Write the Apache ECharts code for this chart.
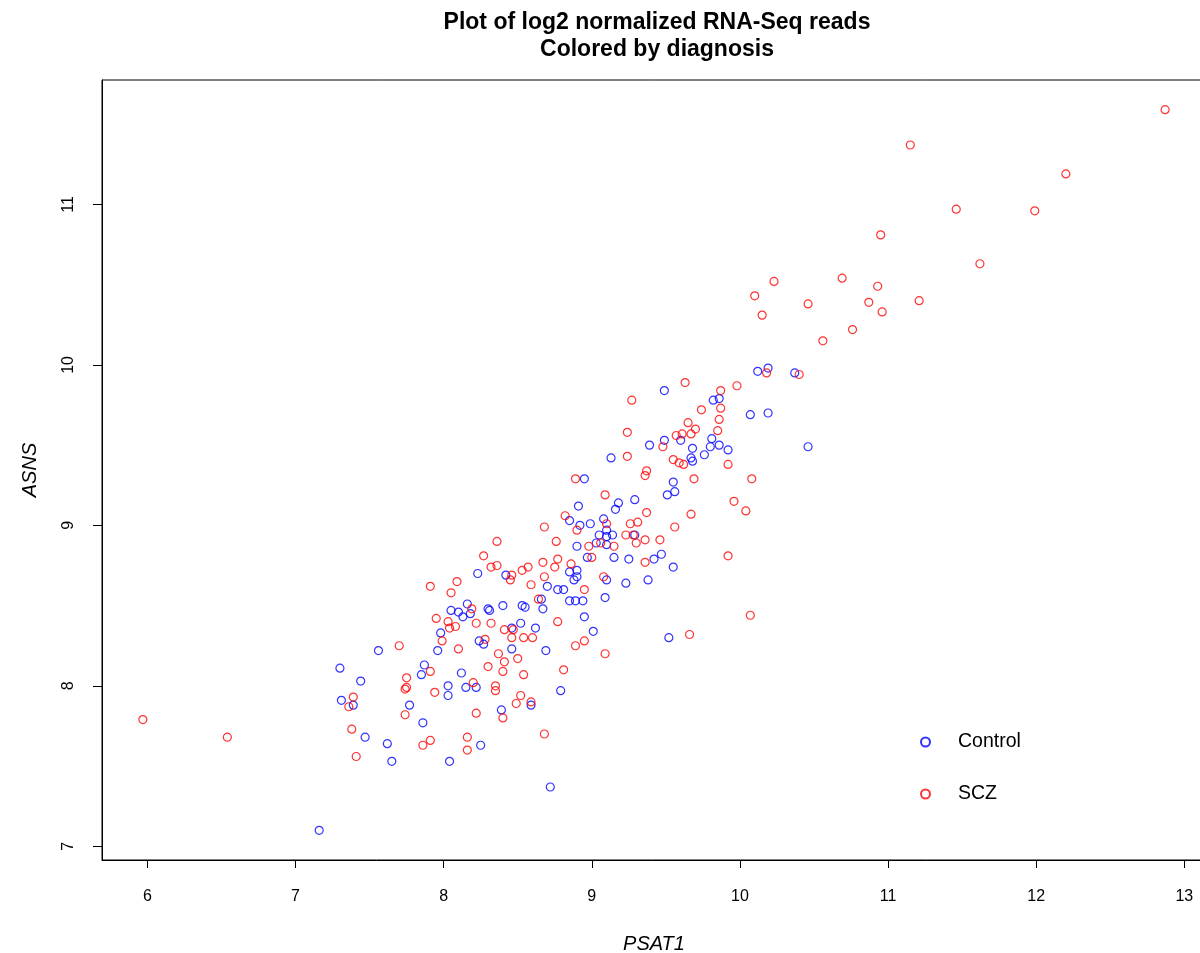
<!DOCTYPE html>
<html>
<head>
<meta charset="utf-8">
<script src="https://cdn.jsdelivr.net/npm/echarts@6/dist/echarts.min.js"></script>
<style>
html,body{margin:0;padding:0;background:#ffffff;}
#chart{width:1200px;height:953px;}
</style>
</head>
<body>
<div id="chart"></div>
<script>
// ---- Data (log2 normalized reads) ----
const controlPSAT1 = [7.98,7.96,7.56,7.30,7.44,7.87,7.85,8.12,8.03,8.15,8.03,7.31,7.39,7.77,7.86,7.47,7.62,7.65,8.04,7.16,
  8.52,8.46,8.62,9.01,8.24,8.27,8.46,8.69,8.22,8.79,8.59,8.39,8.25,8.72,9.52,8.16,8.05,8.10,8.13,9.29,
  9.18,9.16,8.91,8.85,8.92,8.99,9.08,9.10,9.14,9.05,9.10,9.29,9.03,9.10,8.90,8.97,9.15,9.25,8.85,8.90,
  8.90,8.88,9.10,9.23,8.23,8.42,8.70,8.77,8.81,9.09,8.66,8.67,8.85,8.89,8.94,8.40,8.53,8.55,8.18,8.30,
  8.31,8.95,8.95,9.55,9.56,9.51,9.47,9.42,9.55,9.38,10.12,10.19,10.37,9.49,9.82,9.86,10.07,10.19,9.60,9.81,
  9.86,9.80,9.92,9.49,9.39,9.68,9.76,9.67,9.68,9.13,10.46];
const controlASNS = [8.33,8.22,8.22,8.11,8.03,8.13,8.07,8.08,8.00,7.99,7.94,7.91,7.88,7.88,7.77,7.68,7.64,7.53,7.53,7.10,
  8.39,8.36,8.36,8.34,8.28,8.26,8.23,8.22,7.99,7.97,7.88,7.85,7.63,7.37,8.30,8.51,8.47,8.46,8.43,9.16,
  9.14,9.10,9.12,9.03,9.00,9.01,9.04,8.97,8.94,8.94,8.93,8.94,8.89,8.88,8.87,8.80,8.80,8.79,8.71,8.72,
  8.68,8.66,8.66,8.64,8.70,8.69,8.62,8.60,8.60,8.55,8.54,8.48,8.53,8.53,8.53,8.50,8.50,8.49,8.45,8.48,
  8.47,8.43,9.29,9.27,9.21,9.19,8.82,8.79,8.74,8.66,9.96,9.98,9.95,9.84,9.78,9.79,9.69,9.70,9.53,9.54,
  9.50,9.49,9.47,9.53,9.50,9.48,9.44,9.42,9.40,9.42,9.49];

const sczPSAT1 = [7.95,8.03,8.04,8.08,7.99,8.10,7.70,7.91,7.75,7.74,7.75,7.94,7.39,7.36,7.74,7.38,7.91,7.86,8.16,8.16,
  7.41,8.22,8.32,8.41,8.47,8.77,8.28,8.46,8.54,8.60,8.89,8.95,9.09,8.37,8.41,8.50,8.30,8.40,8.54,8.81,
  8.20,8.35,8.35,8.52,8.49,8.59,8.22,8.40,8.68,10.07,9.66,7.91,8.09,8.05,8.89,9.09,8.82,8.90,9.10,9.26,
  9.31,9.23,9.28,9.30,9.06,9.15,8.98,8.68,8.36,8.76,9.00,8.27,8.32,8.36,8.67,8.77,8.75,8.86,9.08,8.46,
  8.45,8.53,8.57,8.68,8.59,8.95,8.64,8.19,9.37,9.36,9.69,10.08,9.96,10.04,9.37,9.67,9.56,9.36,9.46,9.92,
  9.36,10.18,10.40,9.63,9.98,9.27,9.87,9.87,9.74,9.65,9.86,9.24,9.70,9.67,9.61,9.57,9.85,9.48,9.55,9.59,
  9.62,9.24,9.92,12.87,11.15,12.20,11.46,11.99,10.95,11.62,10.23,10.69,10.93,10.10,10.46,10.87,10.96,11.21,10.15,10.76,
  10.56,5.97,6.54];
const sczASNS = [8.42,8.40,8.36,8.37,8.28,8.23,8.25,8.09,8.05,7.98,7.99,7.96,7.93,7.87,7.82,7.73,7.66,7.63,7.68,7.60,
  7.56,8.39,8.39,8.35,8.35,8.40,8.29,8.30,8.30,8.30,8.25,8.28,8.20,8.20,8.15,8.17,8.12,8.09,8.07,8.10,
  8.02,8.00,7.97,7.94,7.89,7.90,7.83,7.80,7.70,8.44,8.32,8.62,8.65,8.58,9.29,9.19,9.06,8.97,9.01,9.01,
  9.02,8.94,8.94,8.89,8.89,8.87,8.87,8.99,8.90,8.90,8.80,8.81,8.74,8.75,8.77,8.79,8.74,8.76,8.68,8.69,
  8.66,8.72,8.74,8.68,8.63,8.60,8.54,8.48,9.34,9.31,9.29,9.29,9.15,9.09,9.08,9.07,8.99,8.91,8.91,8.81,
  8.77,9.95,9.94,9.89,9.87,9.78,9.84,9.73,9.72,9.64,9.66,9.58,9.60,9.57,9.57,9.56,9.59,9.49,9.41,9.39,
  9.38,9.43,9.38,11.59,11.37,11.19,10.97,10.96,10.81,10.63,10.52,10.54,10.49,10.43,10.38,10.39,10.33,10.40,10.31,10.22,
  10.15,7.79,7.68];

const xTicks = [6, 7, 8, 9, 10, 11, 12, 13];
const yTicks = [7, 8, 9, 10, 11];
const groups = ['Control', 'SCZ'];

// ---- Chart ----
const FONT = "'Liberation Sans', Arial, Helvetica, sans-serif";
const chart = echarts.init(document.getElementById('chart'), null, {renderer: 'canvas'});

function pairs(xs, ys) { return xs.map((x, i) => [x, ys[i]]); }

const option = {
  animation: false,
  backgroundColor: '#ffffff',
  textStyle: {fontFamily: FONT},
  title: {
    text: 'Plot of log2 normalized RNA-Seq reads\nColored by diagnosis',
    left: 652,
    top: 4,
    textAlign: 'center',
    textStyle: {fontFamily: FONT, fontSize: 23, fontWeight: 'bold', color: '#000', lineHeight: 27}
  },
  grid: {
    left: 102, top: 80, width: 1104, height: 780,
    outerBoundsMode: 'none',
    show: true, borderColor: '#000', borderWidth: 1, backgroundColor: 'transparent'
  },
  legend: {
    orient: 'vertical',
    left: 915, top: 727,
    itemWidth: 9, itemHeight: 9, itemGap: 32,
    icon: 'circle',
    data: groups,
    textStyle: {fontFamily: FONT, fontSize: 19.5, color: '#000', padding: [0, 0, 0, 23]},
    selectedMode: false
  },
  xAxis: {
    type: 'value',
    min: 5.694, max: 13.146,
    name: 'PSAT1', nameLocation: 'middle', nameGap: 74,
    nameTextStyle: {fontFamily: FONT, fontStyle: 'italic', fontSize: 20, color: '#000'},
    splitLine: {show: false},
    axisLine: {show: true, lineStyle: {color: '#000', width: 1}},
    axisTick: {show: true, length: 8, customValues: xTicks, lineStyle: {color: '#000'}},
    axisLabel: {customValues: xTicks, margin: 29, fontSize: 16, color: '#000', fontFamily: FONT}
  },
  yAxis: {
    type: 'value',
    min: 6.915, max: 11.775,
    name: 'ASNS', nameLocation: 'middle', nameGap: 62,
    nameTextStyle: {fontFamily: FONT, fontStyle: 'italic', fontSize: 20, color: '#000'},
    splitLine: {show: false},
    axisLine: {show: true, lineStyle: {color: '#000', width: 1}},
    axisTick: {show: true, length: 9, customValues: yTicks, lineStyle: {color: '#000'}},
    axisLabel: {customValues: yTicks, rotate: 90, margin: 25, fontSize: 16, color: '#000', fontFamily: FONT}
  },
  series: [
    {
      name: groups[0], type: 'scatter', data: pairs(controlPSAT1, controlASNS),
      symbol: 'circle', symbolSize: 8,
      itemStyle: {color: 'rgba(255,255,255,0)', borderColor: '#0000ff', borderWidth: 1.2},
      emphasis: {disabled: true}, silent: true
    },
    {
      name: groups[1], type: 'scatter', data: pairs(sczPSAT1, sczASNS),
      symbol: 'circle', symbolSize: 8,
      itemStyle: {color: 'rgba(255,255,255,0)', borderColor: '#ff0000', borderWidth: 1.2},
      emphasis: {disabled: true}, silent: true
    }
  ]
};
chart.setOption(option);
</script>
</body>
</html>
